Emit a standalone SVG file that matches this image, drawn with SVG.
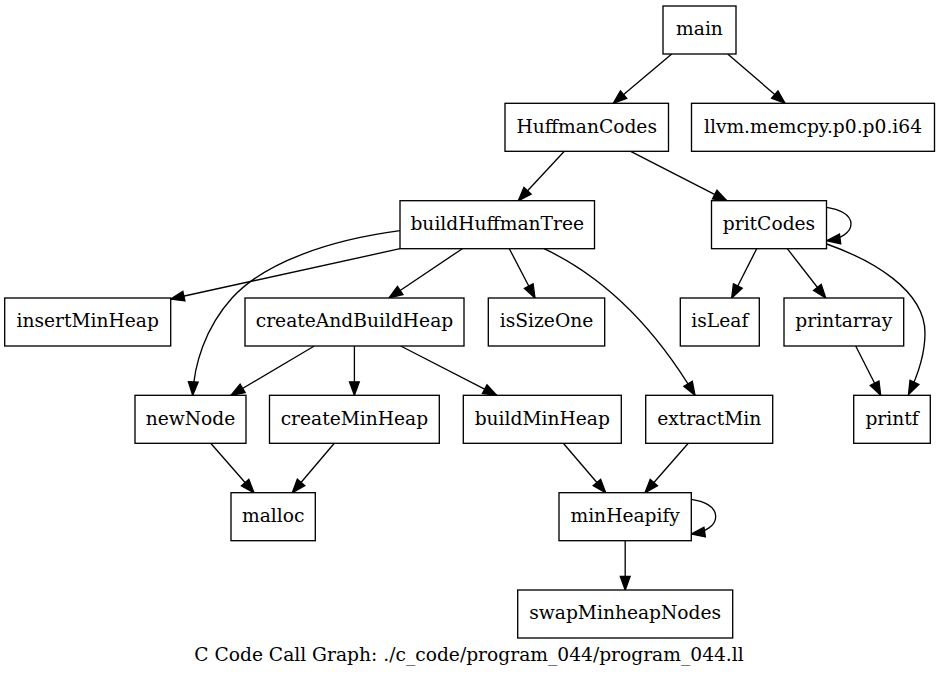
<svg xmlns="http://www.w3.org/2000/svg" width="940" height="675" viewBox="0 0 940 675">
<style>
.n rect{fill:#fff;stroke:#000;stroke-width:1.33}
.n text,.lbl{font-family:"DejaVu Serif","Liberation Serif",serif;font-size:18.67px;fill:#000;text-anchor:middle}
#edges path{fill:none;stroke:#000;stroke-width:1.33;marker-end:url(#ah)}
</style>
<defs>
<marker id="ah" markerUnits="userSpaceOnUse" markerWidth="15" markerHeight="11" viewBox="0 0 15 11" refX="14" refY="5.5" orient="auto" overflow="visible">
<polygon points="0.5,0.6 14,5.5 0.5,10.4" fill="#000" stroke="#000" stroke-width="1.33"/>
</marker>
</defs>
<rect width="940" height="675" fill="#fff"/>
<g id="edges">
<path d="M671.7,54 L613.3,103.3"/>
<path d="M727.7,54 L785,103.3"/>
<path d="M564.3,151.3 L518.3,200.7"/>
<path d="M630.7,151.3 L726.7,200.7"/>
<path d="M826.7,207.3 C838,209 851,214 851,224 C851,233 840,239 826.7,240.7"/>
<path d="M826.7,244 C872,260 925,290 925,333 C925,353 918,375 908.5,394.5"/>
<path d="M756.7,248.7 L731.7,298"/>
<path d="M787.3,248.7 L825.7,298"/>
<path d="M855.7,346 L880.7,395.3"/>
<path d="M400,248.7 L170.7,299"/>
<path d="M400,230.7 C330,240 265,262 232,298 C205,328 194,365 192.7,395.3"/>
<path d="M462.3,248.7 L389,298"/>
<path d="M509.3,248.7 L535,298"/>
<path d="M544,248.7 C600,275 650,320 695,395.3"/>
<path d="M314.3,346 L231,395.3"/>
<path d="M354.4,346 L354.4,395.3"/>
<path d="M400.7,346 L496.7,395.3"/>
<path d="M210.7,443.3 L254,492.7"/>
<path d="M334.3,443.3 L292.3,492.7"/>
<path d="M563.3,443.3 L605.7,492.7"/>
<path d="M688.3,443.3 L645,492.7"/>
<path d="M691.3,499.3 C703,501 715.7,506 715.7,516.7 C715.7,526 705,532 691.3,534"/>
<path d="M625.2,540.7 L625.2,590"/>
</g>
<g id="main" class="n"><rect x="663" y="6" width="73" height="48"/><text x="699.5" y="35.3">main</text></g>
<g id="HuffmanCodes" class="n"><rect x="505" y="103.3" width="163.5" height="48"/><text x="586.75" y="132.6">HuffmanCodes</text></g>
<g id="llvm_memcpy" class="n"><rect x="691.5" y="103.3" width="243" height="48"/><text x="813" y="132.6">llvm.memcpy.p0.p0.i64</text></g>
<g id="buildHuffmanTree" class="n"><rect x="400" y="200.7" width="194.5" height="48"/><text x="497.25" y="230">buildHuffmanTree</text></g>
<g id="pritCodes" class="n"><rect x="711.5" y="200.7" width="115" height="48"/><text x="769" y="230">pritCodes</text></g>
<g id="insertMinHeap" class="n"><rect x="4.7" y="298" width="166" height="48"/><text x="87.7" y="327.3">insertMinHeap</text></g>
<g id="createAndBuildHeap" class="n"><rect x="245" y="298" width="219" height="48"/><text x="354.5" y="327.3">createAndBuildHeap</text></g>
<g id="isSizeOne" class="n"><rect x="488.3" y="298" width="116.4" height="48"/><text x="546.5" y="327.3">isSizeOne</text></g>
<g id="isLeaf" class="n"><rect x="680.3" y="298" width="79" height="48"/><text x="719.8" y="327.3">isLeaf</text></g>
<g id="printarray" class="n"><rect x="784" y="298" width="119.7" height="48"/><text x="843.8" y="327.3">printarray</text></g>
<g id="newNode" class="n"><rect x="135" y="395.3" width="111" height="48"/><text x="190.5" y="424.6">newNode</text></g>
<g id="createMinHeap" class="n"><rect x="269.5" y="395.3" width="169.8" height="48"/><text x="354.4" y="424.6">createMinHeap</text></g>
<g id="buildMinHeap" class="n"><rect x="463.3" y="395.3" width="158" height="48"/><text x="542.3" y="424.6">buildMinHeap</text></g>
<g id="extractMin" class="n"><rect x="645.7" y="395.3" width="127" height="48"/><text x="709.2" y="424.6">extractMin</text></g>
<g id="printf" class="n"><rect x="853.7" y="395.3" width="76.6" height="48"/><text x="892" y="424.6">printf</text></g>
<g id="malloc" class="n"><rect x="231" y="492.7" width="84.3" height="48"/><text x="273.2" y="522">malloc</text></g>
<g id="minHeapify" class="n"><rect x="559" y="492.7" width="132.3" height="48"/><text x="625.2" y="522">minHeapify</text></g>
<g id="swapMinheapNodes" class="n"><rect x="517.7" y="590" width="215" height="48"/><text x="625.2" y="619.3">swapMinheapNodes</text></g>
<text class="lbl" x="469" y="661">C Code Call Graph: ./c_code/program_044/program_044.ll</text>
</svg>
